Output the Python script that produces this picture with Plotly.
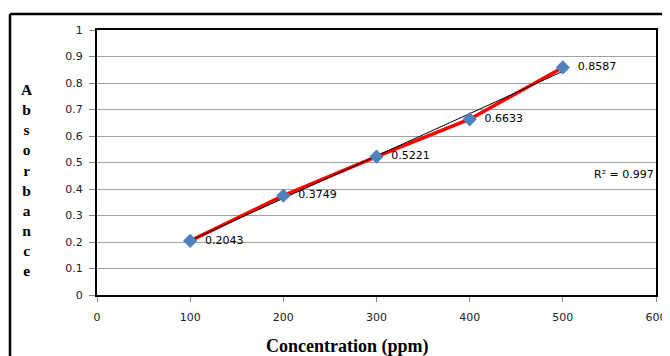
import numpy as np
import plotly.graph_objects as go

concentration = [100, 200, 300, 400, 500]
absorbance = [0.2043, 0.3749, 0.5221, 0.6633, 0.8587]
x_ticks = [0, 100, 200, 300, 400, 500, 600]
y_ticks = [0, 0.1, 0.2, 0.3, 0.4, 0.5, 0.6, 0.7, 0.8, 0.9, 1]
r2_label = "R² = 0.997"

slope, intercept = np.polyfit(concentration, absorbance, 1)
trend_y = [slope * c + intercept for c in concentration]

OFF = 8  # page body margin
W, H = 680, 356 - OFF
L, T = 97 - OFF, 30 - OFF
R = W - (656 - OFF)
B = H - (295 - OFF)
pw = W - L - R
ph = H - T - B

def px(xpage):
    return (xpage - OFF - L) / pw

def py(ypage):
    return 1 - (ypage - OFF - T) / ph

fig = go.Figure()
fig.add_trace(go.Scatter(x=concentration, y=absorbance, mode="lines",
                         line=dict(color="#ff0000", width=3.5), hoverinfo="skip"))
fig.add_trace(go.Scatter(x=[concentration[0], concentration[-1]], y=[trend_y[0], trend_y[-1]],
                         mode="lines", line=dict(color="#000000", width=1), hoverinfo="skip"))
fig.add_trace(go.Scatter(x=concentration, y=absorbance, mode="markers+text",
                         marker=dict(symbol="diamond", size=11, color="#4f81bd"),
                         text=["  " + f"{v:.4f}" for v in absorbance],
                         textposition="middle right",
                         textfont=dict(family="DejaVu Sans", size=11, color="#000000")))

fig.update_layout(
    width=W, height=H, margin=dict(l=L, r=R, t=T, b=B, autoexpand=False),
    paper_bgcolor="white", plot_bgcolor="white", showlegend=False,
    font=dict(family="DejaVu Sans", size=11, color="#000000"),
)
fig.update_xaxes(range=[0, 600], tickvals=x_ticks, ticktext=[str(v) for v in x_ticks],
                 showgrid=False, zeroline=False, showline=True, linecolor="black", linewidth=2,
                 mirror=True, ticks="outside", ticklen=5, tickcolor="#888888",
                 ticklabelstandoff=6, ticklabeloverflow="allow", automargin=False,
                 tickfont=dict(family="DejaVu Sans", size=11, color="#222222"))
fig.update_yaxes(range=[0, 1], tickvals=y_ticks, ticktext=[f"{v:g}" for v in y_ticks],
                 showgrid=True, gridcolor="#a0a0a0", gridwidth=1, zeroline=False,
                 showline=True, linecolor="black", linewidth=2, mirror=True,
                 ticks="outside", ticklen=6, tickcolor="#888888",
                 ticklabelstandoff=4, automargin=False,
                 tickfont=dict(family="DejaVu Sans", size=11, color="#222222"))

fig.add_annotation(x=600, y=0.455, xref="x", yref="y", text=r2_label, showarrow=False,
                   xanchor="right", yanchor="middle",
                   font=dict(family="DejaVu Sans", size=11, color="#000000"))
fig.add_annotation(x=px(347), y=py(346), xref="paper", yref="paper",
                   text="<b>Concentration (ppm)</b>", showarrow=False,
                   xanchor="center", yanchor="middle",
                   font=dict(family="Liberation Serif", size=18, color="#000000"))
fig.add_annotation(x=px(27), y=py(180), xref="paper", yref="paper",
                   text="<b>" + "<br>".join(list("Absorbance")) + "</b>", showarrow=False,
                   xanchor="center", yanchor="middle",
                   font=dict(family="Liberation Serif", size=15.5, color="#000000"))

# outer frame lines (top and left)
fig.add_shape(type="line", xref="paper", yref="paper", x0=px(10), x1=px(700), y0=py(14), y1=py(14),
              line=dict(color="black", width=2.5))
fig.add_shape(type="line", xref="paper", yref="paper", x0=px(10), x1=px(10), y0=py(14), y1=py(370),
              line=dict(color="black", width=2.5))

fig.write_html("out.html", post_script="document.body.style.overflow='hidden';")
